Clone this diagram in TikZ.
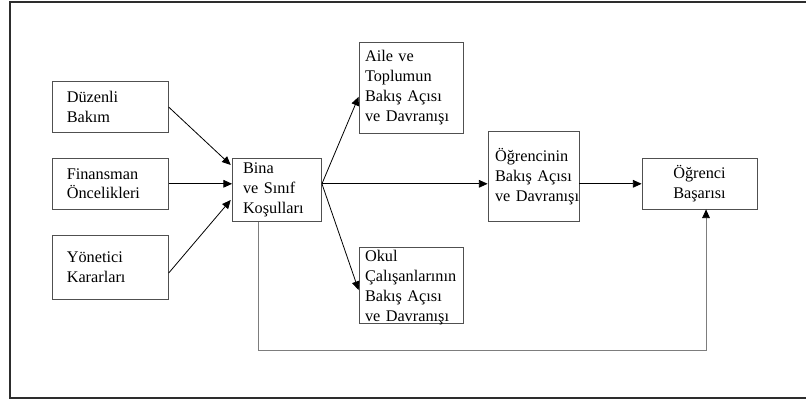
\documentclass[tikz,border=0pt]{standalone}
\usepackage{fontspec}
\setmainfont{Liberation Serif}
\usepackage{xcolor}
\usepackage{tikz}
\usetikzlibrary{arrows.meta, positioning}
\definecolor{boxgray}{RGB}{80,80,80}
\definecolor{linegray}{RGB}{125,125,125}
\definecolor{framegray}{RGB}{45,45,45}

\begin{document}
\begin{tikzpicture}[
    x=0.75pt, y=-0.75pt,
    >={Triangle[length=6.5pt, width=5.75pt]},
    % Node styles
    factor/.style={rectangle, draw=boxgray, line width=0.6pt, align=left, text width=65.6pt,
                   inner xsep=10.5pt, inner ysep=1pt, minimum height=38.25pt,
                   font=\fontsize{12.2}{14.8}\selectfont},
    core/.style={rectangle, draw=boxgray, line width=0.6pt, align=left, text width=51pt,
                 inner xsep=7.9pt, inner ysep=1pt, minimum height=47.6pt,
                 font=\fontsize{12.2}{14.8}\selectfont},
    view/.style={rectangle, draw=boxgray, line width=0.6pt, align=left, text width=69pt,
                 inner xsep=4.5pt, inner ysep=1pt, font=\fontsize{12.2}{14.8}\selectfont},
    outcome/.style={rectangle, draw=boxgray, line width=0.6pt, align=center, minimum width=86.25pt,
                    minimum height=38.25pt, inner ysep=1pt, font=\fontsize{12.2}{14.8}\selectfont},
    arrow/.style={line width=0.6pt, ->},
    feedback/.style={draw=linegray, line width=0.6pt, -{Triangle[length=6.5pt, width=5.75pt, color=black]}},
    frame/.style={draw=framegray, line width=1.5pt}
]
\useasboundingbox (0,0) rectangle (806,399);

% Outer frame (open on the right)
\draw[frame] (806,2.5) -- (9.5,2.5) -- (9.5,397.5) -- (806,397.5);

% Left column
\node (duzenli) [factor] at (110.5,107) {Düzenli\\Bakım};
\node (finansman) [factor, below=18.75pt of duzenli] {Finansman\\Öncelikleri};
\node (yonetici) [factor, below=18.75pt of finansman, minimum height=48pt] {Yönetici\\Kararları};

% Centre
\node (bina) [core] at (277,190) {Bina\\ve Sınıf\\Koşulları};

% Views
\node (aile) [view, minimum height=68.25pt] at (411,87.5) {Aile ve\\Toplumun\\Bakış Açısı\\ve Davranışı};
\node (okul) [view, inner ysep=0pt, text height=11pt, text depth=46.5pt] at (411,285.5)
    {Okul\\Çalışanlarının\\Bakış Açısı\\ve Davranışı};
\node (ogrencinin) [view, text width=57.75pt, inner xsep=5.25pt, minimum height=68pt] at (533.5,176.5)
    {Öğrencinin\\Bakış Açısı\\ve~Davranışı};

% Outcome
\node (basari) [outcome] at (699.5,183.5) {Öğrenci\\Başarısı};

% Arrows
\draw [arrow] (duzenli.east) -- ([xshift=-1pt, yshift=18.75pt]bina.west);
\draw [arrow] (finansman.east) -- (finansman.east -| bina.west);
\draw [arrow] ([yshift=-4.5pt]yonetici.east) -- ([xshift=-1pt, yshift=-7.5pt]bina.west);

\coordinate (split) at (bina.east |- finansman.east);
\draw [arrow] (split) -- ([yshift=-7pt]aile.west);
\draw [arrow] (split) -- ([yshift=-3.4pt]okul.west);
\draw [arrow] (split) -- (split -| ogrencinin.west);
\draw [arrow] (split -| ogrencinin.east) -- (split -| basari.west);

% Direct path to the outcome
\draw [feedback] ([xshift=-14.25pt]bina.south) -- ++(0,128) -| ([xshift=4.9pt]basari.south);

\end{tikzpicture}
\end{document}
